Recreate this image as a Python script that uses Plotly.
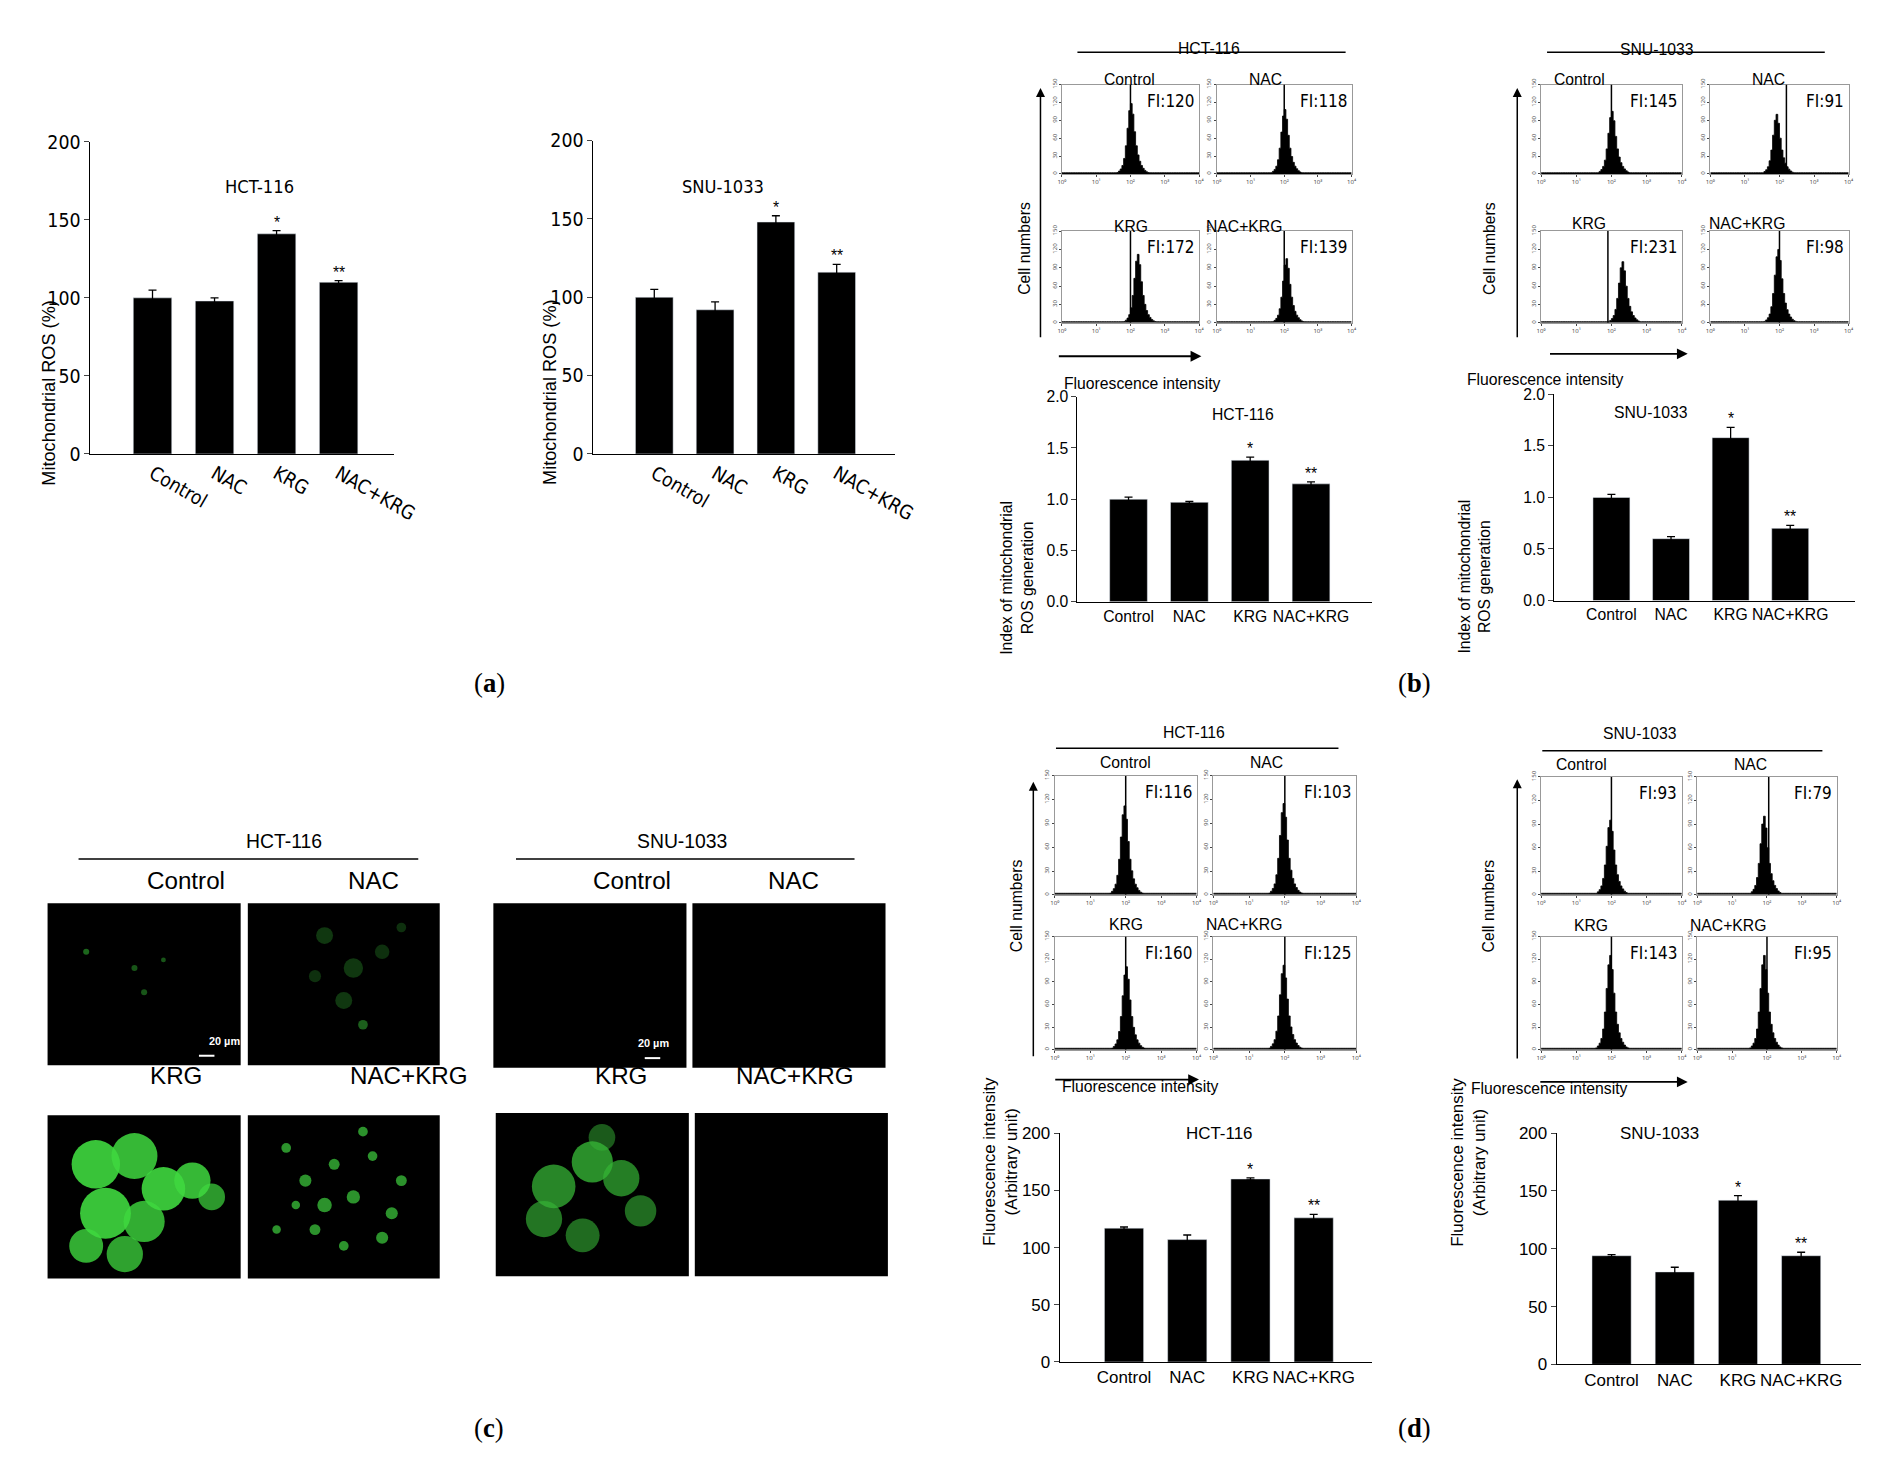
import plotly.graph_objects as go

W, H = 1568.0, 1221.0
def px(x): return x / W
def py(y): return 1 - y / H

categories = ["Control", "NAC", "KRG", "NAC+KRG"]

# bar data
a_hct_vals = [100, 98, 141, 110]; a_hct_err = [5, 2, 2, 1]
a_snu_vals = [100, 92, 148, 116]; a_snu_err = [5, 5, 4, 5]
b_hct_vals = [1.0, 0.97, 1.38, 1.15]; b_hct_err = [0.02, 0.01, 0.03, 0.02]
b_snu_vals = [1.0, 0.6, 1.58, 0.7]; b_snu_err = [0.03, 0.02, 0.1, 0.03]
d_hct_vals = [117, 107, 160, 126]; d_hct_err = [1, 4, 1, 3]
d_snu_vals = [94, 80, 142, 94]; d_snu_err = [1, 4, 4, 3]
stars = ["", "", "*", "**"]

# histogram data (log10 fluorescence peak centre, peak counts, marker line position, FI label)
peak_profile = [0.02, 0.04, 0.07, 0.12, 0.22, 0.4, 0.65, 0.9, 1.0, 0.85, 0.6, 0.4, 0.27, 0.18, 0.12, 0.08, 0.05, 0.03, 0.02]
b_hct_centers = [2.0, 2.0, 2.2, 2.05]; b_hct_peaks = [118, 108, 112, 105]; b_hct_lines = [2.0, 2.0, 2.0, 2.0]
b_hct_fi = ["FI:120", "FI:118", "FI:172", "FI:139"]
b_snu_centers = [2.0, 1.9, 2.3, 1.95]; b_snu_peaks = [105, 100, 100, 120]; b_snu_lines = [2.0, 2.2, 1.9, 2.0]
b_snu_fi = ["FI:145", "FI:91", "FI:231", "FI:98"]
d_hct_centers = [1.95, 1.95, 2.0, 1.95]; d_hct_peaks = [112, 115, 110, 112]; d_hct_lines = [2.0, 2.0, 2.0, 2.0]
d_hct_fi = ["FI:116", "FI:103", "FI:160", "FI:125"]
d_snu_centers = [1.95, 1.9, 1.95, 1.9]; d_snu_peaks = [95, 100, 125, 125]; d_snu_lines = [2.0, 2.05, 2.0, 2.0]
d_snu_fi = ["FI:93", "FI:79", "FI:143", "FI:95"]
hist_baseline = 2

# microscopy "cells": x, y (0-1), size, opacity
krg_hct_cells = ([0.25, 0.45, 0.6, 0.3, 0.5, 0.75, 0.2, 0.4, 0.85], [0.7, 0.75, 0.55, 0.4, 0.35, 0.6, 0.2, 0.15, 0.5], [40, 38, 36, 42, 34, 30, 28, 30, 22], [0.9, 0.85, 0.9, 0.9, 0.8, 0.85, 0.8, 0.75, 0.7])
krg_snu_cells = ([0.3, 0.5, 0.65, 0.25, 0.45, 0.75, 0.55], [0.55, 0.7, 0.6, 0.35, 0.25, 0.4, 0.85], [36, 34, 30, 30, 28, 26, 22], [0.75, 0.8, 0.7, 0.65, 0.6, 0.6, 0.5])
nackrg_hct_cells = ([0.2, 0.3, 0.45, 0.55, 0.65, 0.75, 0.35, 0.5, 0.7, 0.25, 0.6, 0.8, 0.4, 0.15], [0.8, 0.6, 0.7, 0.5, 0.75, 0.4, 0.3, 0.2, 0.25, 0.45, 0.9, 0.6, 0.45, 0.3], [8, 10, 9, 11, 8, 10, 9, 8, 10, 7, 8, 9, 12, 7], [0.7] * 14)
nac_hct_cells = ([0.4, 0.55, 0.7, 0.5, 0.6, 0.35, 0.8], [0.8, 0.6, 0.7, 0.4, 0.25, 0.55, 0.85], [14, 16, 12, 14, 8, 10, 8], [0.35, 0.35, 0.3, 0.35, 0.6, 0.3, 0.3])
ctrl_hct_cells = ([0.2, 0.45, 0.6, 0.5], [0.7, 0.6, 0.65, 0.45], [5, 5, 4, 5], [0.6, 0.5, 0.5, 0.5])

NARROW = "Liberation Sans Narrow, DejaVu Sans Condensed, Arial Narrow, sans-serif"
SANS = "Liberation Sans, Arial, sans-serif"
k = 1898 / W

fig = go.Figure()
layout = {}
annotations = []
shapes = []
ax_i = [0]

def new_axes():
    ax_i[0] += 1
    n = ax_i[0]
    sfx = "" if n == 1 else str(n)
    return n, sfx

def bar_chart(vals, errs, x0, x1, ybot, ytop, xr, ymax, dt, title, tx, ty, ylab, ylx, fnt, fs, tfs, ticks):
    n, sfx = new_axes()
    xa, ya = "x" + sfx, "y" + sfx
    fig.add_trace(go.Bar(x=list(range(4)), y=vals, width=0.62, marker_color="black",
                         error_y=dict(type="data", array=errs, color="black", thickness=1.3, width=4),
                         xaxis=xa, yaxis=ya, showlegend=False))
    layout["xaxis" + sfx] = dict(domain=[px(x0), px(x1)], anchor=ya, range=xr, tickvals=list(range(4)),
                                 ticktext=categories, showline=True, linecolor="black", ticks="",
                                 tickfont=dict(family=fnt, size=fs * k, color="black"), showgrid=False, zeroline=False, fixedrange=True)
    layout["yaxis" + sfx] = dict(domain=[py(ybot), py(ytop)], anchor=xa, range=[0, ymax], tickvals=ticks,
                                 tickformat=dt, showline=True, linecolor="black", ticks="outside", ticklen=5,
                                 tickfont=dict(family=fnt, size=fs * k, color="black"), showgrid=False, zeroline=False)
    for i in range(4):
        if stars[i]:
            annotations.append(dict(x=i, y=vals[i] + errs[i], xref=xa, yref=ya, text=stars[i], showarrow=False,
                                    yanchor="bottom", yshift=-2, font=dict(size=13 * k, color="black", family=SANS)))
    annotations.append(dict(x=px(tx), y=py(ty), xref="paper", yref="paper", text=title, showarrow=False,
                            font=dict(family=fnt, size=tfs * k, color="black")))
    annotations.append(dict(x=px(ylx), y=(py(ybot) + py(ytop)) / 2, xref="paper", yref="paper", text=ylab,
                            textangle=-90, showarrow=False, font=dict(family=SANS, size=tfs * k, color="black")))

bar_chart(a_hct_vals, a_hct_err, 65, 320, 365, 103, [-1.0, 3.9], 200, "d", "HCT-116", 176, 130,
          "Mitochondrial ROS (%)", 20, NARROW, 16, 15, [0, 50, 100, 150, 200])
bar_chart(a_snu_vals, a_snu_err, 487, 740, 365, 102, [-1.0, 3.96], 200, "d", "SNU-1033", 596, 130,
          "Mitochondrial ROS (%)", 441, NARROW, 16, 15, [0, 50, 100, 150, 200])
bar_chart(b_hct_vals, b_hct_err, 893, 1140, 489, 317, [-0.84, 4.0], 2.0, ".1f", "HCT-116", 1032, 323,
          "Index of mitochondrial<br>ROS generation", 842, SANS, 13, 13, [0, 0.5, 1.0, 1.5, 2.0])
bar_chart(b_snu_vals, b_snu_err, 1293, 1545, 488, 315, [-0.96, 4.08], 2.0, ".1f", "SNU-1033", 1407, 321,
          "Index of mitochondrial<br>ROS generation", 1243, SANS, 13, 13, [0, 0.5, 1.0, 1.5, 2.0])
bar_chart(d_hct_vals, d_hct_err, 878, 1140, 1127, 935, [-1.02, 3.92], 200, "d", "HCT-116", 1012, 945,
          "Fluorescence intensity<br>(Arbitrary unit)", 828, SANS, 14, 14, [0, 50, 100, 150, 200])
bar_chart(d_snu_vals, d_snu_err, 1295, 1550, 1129, 935, [-0.87, 3.94], 200, "d", "SNU-1033", 1416, 945,
          "Fluorescence intensity<br>(Arbitrary unit)", 1240, SANS, 14, 14, [0, 50, 100, 150, 200])

def histo(center, peak, linepos, fi, x0, x1, ytop, ybot):
    n, sfx = new_axes()
    xa, ya = "x" + sfx, "y" + sfx
    step = 0.05
    xs = [i * step for i in range(81)]
    ys = [hist_baseline] * 81
    start = int(round((center - 8 * step) / step))
    for j, p in enumerate(peak_profile):
        idx = start + j
        if 0 <= idx < 81:
            ys[idx] = max(ys[idx], p * peak)
    fig.add_trace(go.Scatter(x=xs, y=ys, mode="lines", line=dict(color="black", width=0.8, shape="hv"),
                             fill="tozeroy", fillcolor="black", xaxis=xa, yaxis=ya, showlegend=False, hoverinfo="skip"))
    tf = dict(size=5 * k, color="#444")
    layout["xaxis" + sfx] = dict(domain=[px(x0), px(x1)], anchor=ya, range=[0, 4], tickvals=[0, 1, 2, 3, 4],
                                 ticktext=["10⁰", "10¹", "10²", "10³", "10⁴"], tickfont=tf, showline=True, mirror=True,
                                 linecolor="#999", ticks="outside", ticklen=2, showgrid=False, zeroline=False)
    layout["yaxis" + sfx] = dict(domain=[py(ybot), py(ytop)], anchor=xa, range=[0, 150], tickvals=[0, 30, 60, 90, 120, 150],
                                 tickfont=tf, tickangle=-90, showline=True, mirror=True, linecolor="#999",
                                 ticks="outside", ticklen=2, showgrid=False, zeroline=False)
    shapes.append(dict(type="line", xref=xa, yref=ya, x0=linepos, x1=linepos, y0=0, y1=150,
                       line=dict(color="black", width=1.5)))
    annotations.append(dict(x=1, y=1, xref=xa + " domain", yref=ya + " domain", text=fi, showarrow=False,
                            xanchor="right", yanchor="top", xshift=-3, yshift=-4,
                            font=dict(family=NARROW, size=14 * k, color="black")))

def flow_group(centers, peaks, lines, fis, cols, rows, title, tx, ty, lx0, lx1, ly, labpos,
               vx, vy0, vy1, hx0, hx1, hy, htx, hty, cnx):
    for i in range(4):
        c = cols[i % 2]; r = rows[i // 2]
        histo(centers[i], peaks[i], lines[i], fis[i], c[0], c[1], r[0], r[1])
    annotations.append(dict(x=px(tx), y=py(ty), xref="paper", yref="paper", text=title, showarrow=False,
                            font=dict(family=SANS, size=13 * k, color="black")))
    shapes.append(dict(type="line", xref="paper", yref="paper", x0=px(lx0), x1=px(lx1), y0=py(ly), y1=py(ly),
                       line=dict(color="black", width=1.5)))
    for lab, (x, y) in zip(categories, labpos):
        annotations.append(dict(x=px(x), y=py(y), xref="paper", yref="paper", text=lab, showarrow=False,
                                font=dict(family=SANS, size=13 * k, color="black")))
    annotations.append(dict(x=px(vx), y=py(vy0), ax=0, ay=(vy1 - vy0) * k, xref="paper", yref="paper",
                            axref="pixel", ayref="pixel", text="", showarrow=True, arrowhead=2, arrowsize=1.2,
                            arrowwidth=1.5, arrowcolor="black"))
    annotations.append(dict(x=px(hx1), y=py(hy), ax=-(hx1 - hx0) * k, ay=0, xref="paper", yref="paper",
                            axref="pixel", ayref="pixel", text="", showarrow=True, arrowhead=2, arrowsize=1.2,
                            arrowwidth=1.8, arrowcolor="black"))
    annotations.append(dict(x=px(htx), y=py(hty), xref="paper", yref="paper", text="Fluorescence intensity",
                            showarrow=False, font=dict(family=SANS, size=13 * k, color="black")))
    annotations.append(dict(x=px(cnx), y=py((vy0 + vy1) / 2 - 10), xref="paper", yref="paper", text="Cell numbers",
                            textangle=-90, showarrow=False, font=dict(family=SANS, size=13 * k, color="black")))

flow_group(b_hct_centers, b_hct_peaks, b_hct_lines, b_hct_fi, [(880, 995), (1010, 1123)], [(55, 130), (178, 255)],
           "HCT-116", 1003, 16, 893, 1118, 28, [(937, 42), (1066, 42), (938, 165), (1066, 165)],
           862, 58, 265, 878, 997, 283, 948, 297, 848)
flow_group(b_snu_centers, b_snu_peaks, b_snu_lines, b_snu_fi, [(1282, 1400), (1424, 1540)], [(55, 130), (178, 255)],
           "SNU-1033", 1412, 17, 1287, 1520, 28, [(1337, 42), (1488, 42), (1338, 163), (1488, 163)],
           1262, 58, 265, 1290, 1405, 281, 1353, 294, 1247)
flow_group(d_hct_centers, d_hct_peaks, d_hct_lines, d_hct_fi, [(874, 993), (1007, 1127)], [(635, 735), (770, 865)],
           "HCT-116", 991, 599, 875, 1112, 612, [(933, 624), (1067, 624), (934, 760), (1066, 760)],
           856, 640, 868, 875, 995, 890, 946, 905, 842)
flow_group(d_snu_centers, d_snu_peaks, d_snu_lines, d_snu_fi, [(1282, 1400), (1413, 1530)], [(636, 735), (770, 865)],
           "SNU-1033", 1398, 600, 1283, 1518, 614, [(1339, 626), (1473, 626), (1340, 761), (1472, 761)],
           1262, 638, 870, 1282, 1405, 892, 1357, 906, 1247)

def image(x0, x1, y0, y1, cells, color, scalebar=False):
    n, sfx = new_axes()
    xa, ya = "x" + sfx, "y" + sfx
    shapes.append(dict(type="rect", xref="paper", yref="paper", x0=px(x0), x1=px(x1), y0=py(y1), y1=py(y0),
                       fillcolor="black", line=dict(width=0), layer="below"))
    if cells:
        xs, ys, ss, ops = cells
        fig.add_trace(go.Scatter(x=xs, y=ys, mode="markers", xaxis=xa, yaxis=ya, showlegend=False, hoverinfo="skip",
                                 marker=dict(size=[s * k for s in ss], color=color, opacity=ops, line=dict(width=0))))
    layout["xaxis" + sfx] = dict(domain=[px(x0), px(x1)], anchor=ya, range=[0, 1], visible=False)
    layout["yaxis" + sfx] = dict(domain=[py(y1), py(y0)], anchor=xa, range=[0, 1], visible=False)
    if scalebar:
        shapes.append(dict(type="line", xref="paper", yref="paper", x0=px(x1 - 35), x1=px(x1 - 22),
                           y0=py(y1 - 8), y1=py(y1 - 8), line=dict(color="white", width=2)))
        annotations.append(dict(x=px(x1 - 28), y=py(y1 - 14), xref="paper", yref="paper", text="<b>20 µm</b>",
                                showarrow=False, font=dict(size=9 * k, color="white", family=SANS)))

image(29, 191, 742, 878, ctrl_hct_cells, "#2faa2f", True)
image(197, 358, 742, 878, nac_hct_cells, "#2f9f2f")
image(29, 191, 920, 1057, krg_hct_cells, "#3fd83f")
image(197, 358, 920, 1057, nackrg_hct_cells, "#3fd03f")
image(403, 565, 742, 880, None, "#2f9f2f", True)
image(570, 732, 742, 880, None, "#2f9f2f")
image(405, 567, 918, 1055, krg_snu_cells, "#35b335")
image(572, 734, 918, 1055, None, "#2f9f2f")

for title, tx, lx0, lx1, labs in [("HCT-116", 194, 55, 340, [(111, 723), (279, 723), (113, 900), (281, 900)]),
                                  ("SNU-1033", 561, 422, 706, [(485, 723), (655, 723), (487, 900), (656, 900)])]:
    annotations.append(dict(x=px(tx), y=py(690), xref="paper", yref="paper", text=title, showarrow=False,
                            font=dict(family=SANS, size=16 * k, color="black")))
    shapes.append(dict(type="line", xref="paper", yref="paper", x0=px(lx0), x1=px(lx1), y0=py(705), y1=py(705),
                       line=dict(color="black", width=1.5)))
    for lab, (x, y) in zip(categories, labs):
        annotations.append(dict(x=px(x), y=py(y), xref="paper", yref="paper", text=lab, showarrow=False,
                                font=dict(family=SANS, size=20 * k, color="black")))

for lab, x, y in [("a", 385, 557), ("b", 1191, 557), ("c", 385, 1197), ("d", 1191, 1197)]:
    annotations.append(dict(x=px(x), y=py(y), xref="paper", yref="paper", text="(<b>%s</b>)" % lab, showarrow=False,
                            font=dict(family="Liberation Serif, Times New Roman, serif", size=22 * k, color="black")))

fig.update_layout(width=1898, height=1478, margin=dict(l=0, r=0, t=0, b=0), paper_bgcolor="white",
                  plot_bgcolor="rgba(0,0,0,0)", annotations=annotations, shapes=shapes, showlegend=False, **layout)
fig.write_html("out.html")
